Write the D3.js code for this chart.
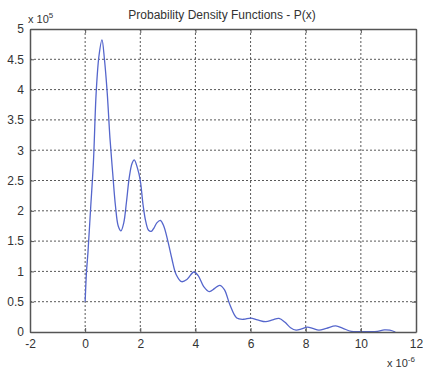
<!DOCTYPE html>
<html>
<head>
<meta charset="utf-8">
<script src="https://cdn.jsdelivr.net/npm/d3@7"></script>
<style>
  html, body { margin: 0; padding: 0; background: #fff; }
  svg { display: block; font-family: "Liberation Sans", Arial, sans-serif; }
</style>
</head>
<body>
<svg id="chart" width="423" height="371"></svg>
<script>
// Sample positions (x, in units of 1e-6) and density values (in units of 1e5)
const xValues = [0, 0.05, 0.1, 0.2, 0.3, 0.4, 0.5, 0.61, 0.7, 0.8, 0.9, 1.0, 1.1, 1.2, 1.3, 1.4, 1.5, 1.6, 1.7, 1.78,
  1.9, 2.0, 2.1, 2.2, 2.3, 2.4, 2.5, 2.6, 2.73, 2.85, 3.0, 3.15, 3.3, 3.5, 3.7, 3.94, 4.1, 4.3, 4.5, 4.7,
  4.88, 5.05, 5.25, 5.5, 5.75, 6.0, 6.25, 6.55, 6.8, 7.03, 7.25, 7.45, 7.65, 7.85, 8.06, 8.25, 8.48, 8.75,
  9.09, 9.35, 9.65, 10.0, 10.3, 10.6, 10.85, 11.05, 11.25];
const pValues = [0.5, 1.0, 1.3, 2.05, 2.8, 3.95, 4.55, 4.82, 4.5, 3.95, 3.2, 2.62, 2.08, 1.75, 1.67, 1.8, 2.15, 2.55, 2.78, 2.84,
  2.7, 2.5, 2.1, 1.82, 1.68, 1.66, 1.72, 1.8, 1.84, 1.75, 1.5, 1.2, 0.95, 0.83, 0.87, 0.99, 0.93, 0.75, 0.665, 0.72,
  0.77, 0.7, 0.45, 0.23, 0.21, 0.23, 0.2, 0.17, 0.2, 0.225, 0.16, 0.07, 0.03, 0.05, 0.08, 0.06, 0.03, 0.06,
  0.1, 0.06, 0.01, 0.005, 0.005, 0.01, 0.035, 0.03, 0.0];

const xTicks = [-2, 0, 2, 4, 6, 8, 10, 12];
const yTicks = [0, 0.5, 1, 1.5, 2, 2.5, 3, 3.5, 4, 4.5, 5];
const xTickLabels = ["-2", "0", "2", "4", "6", "8", "10", "12"];
const yTickLabels = ["0", "0.5", "1", "1.5", "2", "2.5", "3", "3.5", "4", "4.5", "5"];
const titleText = "Probability Density Functions - P(x)";

const svg = d3.select("#chart");
const plotLeft = 30, plotRight = 416, plotTop = 29, plotBottom = 332;

const x = d3.scaleLinear().domain([-2, 12]).range([plotLeft, plotRight]);
const y = d3.scaleLinear().domain([0, 5]).range([plotBottom, plotTop]);

const axisColor = "#555";
const gridColor = "#222";

// Dotted grid
const grid = svg.append("g");
grid.selectAll("line.gx").data(xTicks.slice(1, -1)).join("line")
  .attr("x1", d => x(d)).attr("x2", d => x(d))
  .attr("y1", plotTop).attr("y2", plotBottom)
  .attr("stroke", gridColor).attr("stroke-width", 1)
  .attr("stroke-dasharray", "2,2").attr("opacity", 0.75);
grid.selectAll("line.gy").data(yTicks.slice(1, -1)).join("line")
  .attr("x1", plotLeft).attr("x2", plotRight)
  .attr("y1", d => y(d)).attr("y2", d => y(d))
  .attr("stroke", gridColor).attr("stroke-width", 1)
  .attr("stroke-dasharray", "2,2").attr("opacity", 0.75);

// Density curve
const line = d3.line()
  .x((d, i) => x(xValues[i]))
  .y(d => y(d))
  .curve(d3.curveCatmullRom.alpha(0.5));
svg.append("path")
  .datum(pValues)
  .attr("d", line)
  .attr("fill", "none")
  .attr("stroke", "#5566cc")
  .attr("stroke-width", 1.3);

// Axes with inward ticks on all four sides
const styleAxis = g => {
  g.select(".domain").attr("stroke", axisColor).attr("stroke-width", 1.5);
  g.selectAll(".tick line").attr("stroke", axisColor).attr("stroke-width", 1);
  g.selectAll(".tick text").attr("fill", "#333").attr("font-size", 12)
    .attr("font-family", "Liberation Sans, Arial, sans-serif");
};

svg.append("g").attr("transform", `translate(0,${plotBottom})`)
  .call(d3.axisBottom(x).tickValues(xTicks).tickFormat((d, i) => xTickLabels[i])
    .tickSizeInner(-4).tickSizeOuter(0).tickPadding(7))
  .call(styleAxis);
svg.append("g").attr("transform", `translate(0,${plotTop})`)
  .call(d3.axisTop(x).tickValues(xTicks).tickFormat("").tickSizeInner(-4).tickSizeOuter(0))
  .call(styleAxis);
svg.append("g").attr("transform", `translate(${plotLeft},0)`)
  .call(d3.axisLeft(y).tickValues(yTicks).tickFormat((d, i) => yTickLabels[i])
    .tickSizeInner(-4).tickSizeOuter(0).tickPadding(6))
  .call(styleAxis);
svg.append("g").attr("transform", `translate(${plotRight},0)`)
  .call(d3.axisRight(y).tickValues(yTicks).tickFormat("").tickSizeInner(-4).tickSizeOuter(0))
  .call(styleAxis);

// Title
svg.append("text")
  .attr("x", 222).attr("y", 19)
  .attr("text-anchor", "middle")
  .attr("font-size", 12).attr("fill", "#333")
  .text(titleText);

// Exponent labels
const yExp = svg.append("text").attr("x", 28).attr("y", 23).attr("font-size", 11).attr("fill", "#333");
yExp.append("tspan").text("x 10");
yExp.append("tspan").attr("dy", -5).attr("font-size", 8).text("5");

const xExp = svg.append("text").attr("x", 387).attr("y", 367).attr("font-size", 11).attr("fill", "#333");
xExp.append("tspan").text("x 10");
xExp.append("tspan").attr("dy", -5).attr("font-size", 8).text("-6");
</script>
</body>
</html>
